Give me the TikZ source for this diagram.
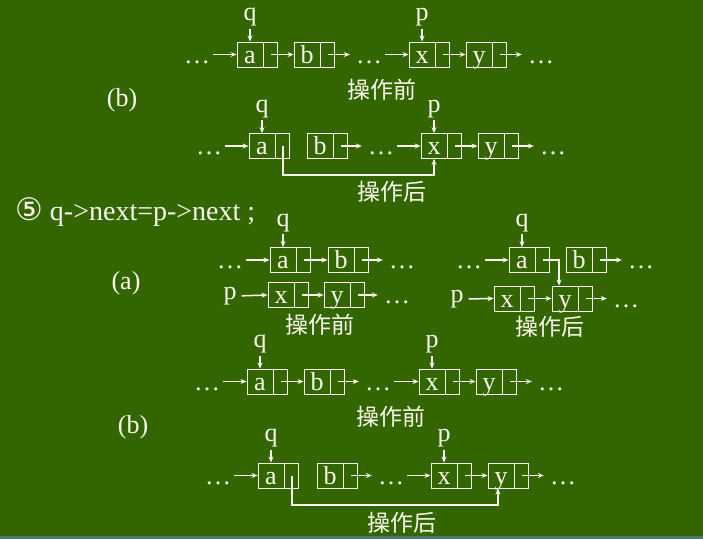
\documentclass[tikz,border=0pt]{standalone}
\usepackage{fontspec}
\setmainfont{Liberation Serif}
\newfontfamily\cjk{Noto Sans CJK SC}
\newfontfamily\dv{DejaVu Sans}
\usetikzlibrary{arrows.meta}
\definecolor{bg}{RGB}{51,102,0}
\definecolor{strip}{RGB}{74,118,120}
\definecolor{ink}{RGB}{250,250,240}
\newcommand\lcell[4]{%
  \node[dat] (#1) at (#2,#3) {#4};
  \node[ptr, anchor=west] (#1p) at (#1.east) {};
}
\tikzset{
  dat/.style={draw=ink, line width=0.9pt, minimum width=26pt, minimum height=25pt, inner sep=0pt,
    text height=17pt, text depth=0pt, text=ink, font=\fontsize{26}{30}\selectfont},
  ptr/.style={draw=ink, line width=0.9pt, minimum width=14pt, minimum height=25pt, inner sep=0pt},
  dts/.style={inner sep=0pt, minimum height=25pt, text height=17pt, text depth=0pt, text=ink,
    font=\fontsize{26}{30}\selectfont},
  lbl/.style={text=ink, inner sep=0pt, font=\fontsize{26}{30}\selectfont},
  ptl/.style={lbl, anchor=south, inner sep=0pt},
  cjkl/.style={text=ink, inner sep=0pt, font=\cjk\fontsize{23}{26}\selectfont},
  arr/.style={draw=ink, line width=1.5pt, -{Stealth[length=6pt,width=5pt]}},
  fromd/.style={shorten <=3pt},
  tod/.style={shorten >=6pt},
}
\begin{document}
\begin{tikzpicture}[x=1pt,y=-1pt]
\useasboundingbox (0,0) rectangle (703,539);
\fill[bg] (0,0) rectangle (703,539);
\fill[strip] (0,535.5) rectangle (703,539);

% ---------- diagram 1 (b, before) ----------
\lcell{a1}{250}{54.5}{a}
\lcell{b1}{307}{54.5}{b}
\lcell{x1}{422}{54.5}{x}
\lcell{y1}{479}{54.5}{y}
\node[dts] (d11) at (197,54.5) {…};
\node[dts] (d12) at (369,54.5) {…};
\node[dts] (d13) at (541,54.5) {…};
\node[ptl] (q1) at ([yshift=15pt]a1.north) {q};
\node[ptl] (p1) at ([yshift=15pt]x1.north) {p};
\draw[arr,shorten <=2pt] (q1) -- (a1.north);
\draw[arr,shorten <=2pt] (p1) -- (x1.north);
\draw[arr,fromd] (d11.east) -- (a1.west);
\draw[arr] (a1p.center) -- (b1.west);
\draw[arr,tod] (b1p.center) -- (d12.west);
\draw[arr,fromd] (d12.east) -- (x1.west);
\draw[arr] (x1p.center) -- (y1.west);
\draw[arr,tod] (y1p.center) -- (d13.west);
\node[cjkl] (t1) at (382,90) {操作前};

\node[lbl] (lb1) at (122,100) {(b)};

% ---------- diagram 2 (b, after) ----------
\lcell{a2}{262}{146}{a}
\lcell{b2}{320}{146}{b}
\lcell{x2}{434}{146}{x}
\lcell{y2}{491}{146}{y}
\node[dts] (d21) at (209,146) {…};
\node[dts] (d22) at (381,146) {…};
\node[dts] (d23) at (553,146) {…};
\node[ptl] (q2) at ([yshift=15pt]a2.north) {q};
\node[ptl] (p2) at ([yshift=15pt]x2.north) {p};
\draw[arr,shorten <=2pt] (q2) -- (a2.north);
\draw[arr,shorten <=2pt] (p2) -- (x2.north);
\draw[arr,fromd] (d21.east) -- (a2.west);
\draw[arr,tod] (b2p.center) -- (d22.west);
\draw[arr,fromd] (d22.east) -- (x2.west);
\draw[arr] (x2p.center) -- (y2.west);
\draw[arr,tod] (y2p.center) -- (d23.west);
\draw[arr] (a2p.center) -- ++(0,29) -| (x2.south);
\node[cjkl] (t2) at (392,192) {操作后};

% ---------- step 5 ----------
\node[lbl, anchor=west, font=\fontsize{28}{32}\selectfont] (code) at (15,212) {{\dv\fontsize{31}{34}\selectfont ⑤} q->next=p->next ;};

\node[lbl] (la) at (126,283) {(a)};

% ---------- (a) before ----------
\lcell{a3}{283}{260}{a}
\lcell{b3}{341}{260}{b}
\node[dts] (d31) at (230,260) {…};
\node[dts] (d32) at (402,260) {…};
\node[ptl] (q3) at ([yshift=15pt]a3.north) {q};
\draw[arr,shorten <=2pt] (q3) -- (a3.north);
\draw[arr,fromd] (d31.east) -- (a3.west);
\draw[arr] (a3p.center) -- (b3.west);
\draw[arr,tod] (b3p.center) -- (d32.west);
\lcell{x3}{281}{295}{x}
\lcell{y3}{337}{295}{y}
\node[lbl] (p3) at (230,296) {p};
\node[dts] (d33) at (397,295) {…};
\draw[arr,shorten <=5pt] (p3.east) -- (x3.west);
\draw[arr] (x3p.center) -- (y3.west);
\draw[arr,tod] (y3p.center) -- (d33.west);
\node[cjkl] (t3) at (320,325) {操作前};

% ---------- (a) after ----------
\lcell{a4}{522}{260}{a}
\lcell{b4}{579}{260}{b}
\node[dts] (d41) at (469,260) {…};
\node[dts] (d42) at (641,260) {…};
\node[ptl] (q4) at ([yshift=15pt]a4.north) {q};
\draw[arr,shorten <=2pt] (q4) -- (a4.north);
\draw[arr,fromd] (d41.east) -- (a4.west);
\draw[arr,tod] (b4p.center) -- (d42.west);
\lcell{x4}{507}{298.5}{x}
\lcell{y4}{565}{298.5}{y}
\node[lbl] (p4) at (457,299) {p};
\node[dts] (d43) at (626,298.5) {…};
\draw[arr,shorten <=5pt] (p4.east) -- (x4.west);
\draw[arr] (x4p.center) -- (y4.west);
\draw[arr,tod] (y4p.center) -- (d43.west);
\draw[arr] (a4p.center) -| ([xshift=-6pt]y4.north);
\node[cjkl] (t4) at (550,327) {操作后};

% ---------- diagram 5 (b, before) ----------
\lcell{a5}{260}{381.5}{a}
\lcell{b5}{317}{381.5}{b}
\lcell{x5}{432}{381.5}{x}
\lcell{y5}{489}{381.5}{y}
\node[dts] (d51) at (207,381.5) {…};
\node[dts] (d52) at (378,381.5) {…};
\node[dts] (d53) at (551,381.5) {…};
\node[ptl] (q5) at ([yshift=15pt]a5.north) {q};
\node[ptl] (p5) at ([yshift=15pt]x5.north) {p};
\draw[arr,shorten <=2pt] (q5) -- (a5.north);
\draw[arr,shorten <=2pt] (p5) -- (x5.north);
\draw[arr,fromd] (d51.east) -- (a5.west);
\draw[arr] (a5p.center) -- (b5.west);
\draw[arr,tod] (b5p.center) -- (d52.west);
\draw[arr,fromd] (d52.east) -- (x5.west);
\draw[arr] (x5p.center) -- (y5.west);
\draw[arr,tod] (y5p.center) -- (d53.west);
\node[cjkl] (t5) at (391,417) {操作前};

\node[lbl] (lb2) at (133,427) {(b)};

% ---------- diagram 6 (b, after) ----------
\lcell{a6}{271}{475.5}{a}
\lcell{b6}{330}{475.5}{b}
\lcell{x6}{444}{475.5}{x}
\lcell{y6}{501}{475.5}{y}
\node[dts] (d61) at (218,475.5) {…};
\node[dts] (d62) at (391,475.5) {…};
\node[dts] (d63) at (563,475.5) {…};
\node[ptl] (q6) at ([yshift=15pt]a6.north) {q};
\node[ptl] (p6) at ([yshift=15pt]x6.north) {p};
\draw[arr,shorten <=2pt] (q6) -- (a6.north);
\draw[arr,shorten <=2pt] (p6) -- (x6.north);
\draw[arr,fromd] (d61.east) -- (a6.west);
\draw[arr,tod] (b6p.center) -- (d62.west);
\draw[arr,fromd] (d62.east) -- (x6.west);
\draw[arr] (x6p.center) -- (y6.west);
\draw[arr,tod] (y6p.center) -- (d63.west);
\draw[arr] (a6p.center) -- ++(0,29.5) -| ([xshift=-3pt]y6.south);
\node[cjkl] (t6) at (402,523) {操作后};
\end{tikzpicture}
\end{document}
